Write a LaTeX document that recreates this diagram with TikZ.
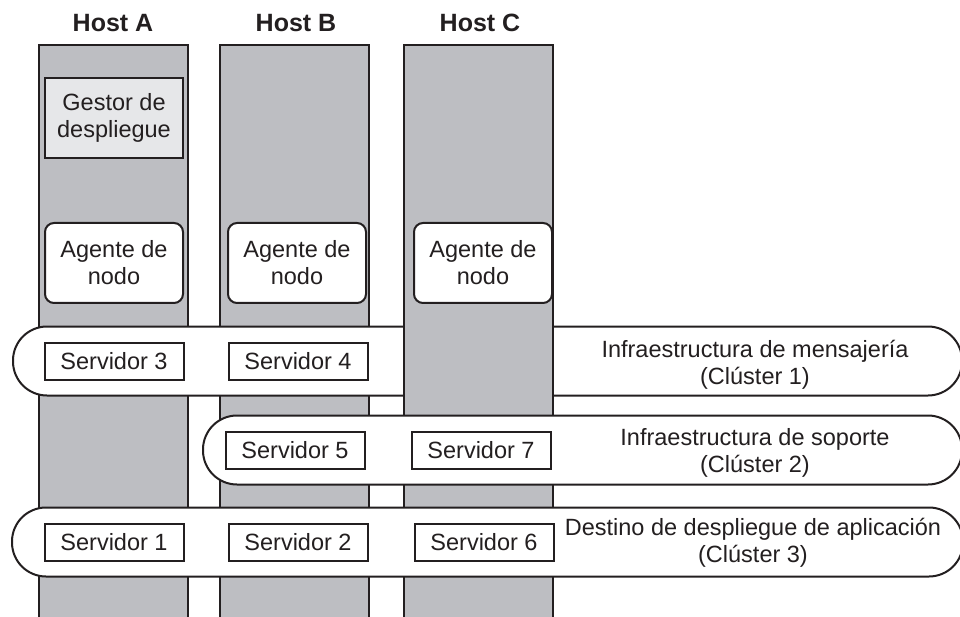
\documentclass[tikz,border=0pt]{standalone}
\usepackage{fontspec}
\setmainfont{Liberation Sans}
\usetikzlibrary{positioning}

\definecolor{hostgray}{RGB}{189,190,194}
\definecolor{boxgray}{RGB}{230,231,233}
\definecolor{inkline}{RGB}{35,31,32}

\tikzset{
  hosttitle/.style={font=\fontsize{25}{30}\selectfont\bfseries},
  server/.style={draw, fill=white, minimum width=139pt, minimum height=37pt, inner sep=0pt},
  agent/.style={draw, fill=white, rounded corners=9pt, minimum width=138pt, minimum height=80pt, align=center, inner sep=0pt},
  cluster/.style={draw, fill=white, rounded corners=34pt, minimum height=69pt, inner sep=0pt},
  clusterlabel/.style={align=center}
}

\begin{document}
\begin{tikzpicture}[x=1pt, y=-1pt, line width=2pt, color=inkline,
    font=\fontsize{23.5}{27}\selectfont]
    \useasboundingbox (0,0) rectangle (960,617);

    % hosts A and B
    \foreach \xl/\xr in {39/188, 220/369} {
        \fill[hostgray] (\xl,45) rectangle (\xr,617);
        \draw (\xl,617) -- (\xl,45) -- (\xr,45) -- (\xr,617);
    }
    \node[hosttitle] (hostA) at (113,23) {Host A};
    \node[hosttitle] (hostB) at (296,23) {Host B};

    % cluster 1 lies under host C
    \node[cluster, minimum width=949pt] (cl1) at (487.5,361) {};

    \fill[hostgray] (404,45) rectangle (553,617);
    \draw (404,617) -- (404,45) -- (553,45) -- (553,617);
    \node[hosttitle] (hostC) at (480,23) {Host C};

    \node[cluster, minimum width=759pt] (cl2) at (582.5,450) {};
    \node[cluster, minimum width=951pt] (cl3) at (487.5,542) {};

    % managers and agents
    \node[draw, fill=boxgray, minimum width=138pt, minimum height=80pt, align=center, inner sep=0pt] (gestor) at (114,118) {Gestor de\\despliegue};
    \node[agent] (agentA) at (114,263) {Agente de\\nodo};
    \node[agent, right=43pt of agentA] (agentB) {Agente de\\nodo};
    \node[agent, right=46pt of agentB] (agentC) {Agente de\\nodo};

    % servers
    \node[server] (srv3) at (114,361) {Servidor 3};
    \node[server, right=43pt of srv3] (srv4) {Servidor 4};
    \node[server] (srv5) at (295,450) {Servidor 5};
    \node[server, right=45pt of srv5] (srv7) {Servidor 7};
    \node[server] (srv1) at (114,542) {Servidor 1};
    \node[server, right=43pt of srv1] (srv2) {Servidor 2};
    \node[server, right=45pt of srv2] (srv6) {Servidor 6};

    % cluster names
    \node[clusterlabel] (cl1name) at (755,365) {Infraestructura de mensajería\\(Clúster 1)};
    \node[clusterlabel] (cl2name) at (755,453) {Infraestructura de soporte\\(Clúster 2)};
    \node[clusterlabel] (cl3name) at (753,543) {Destino de despliegue de aplicación\\(Clúster 3)};
\end{tikzpicture}
\end{document}
